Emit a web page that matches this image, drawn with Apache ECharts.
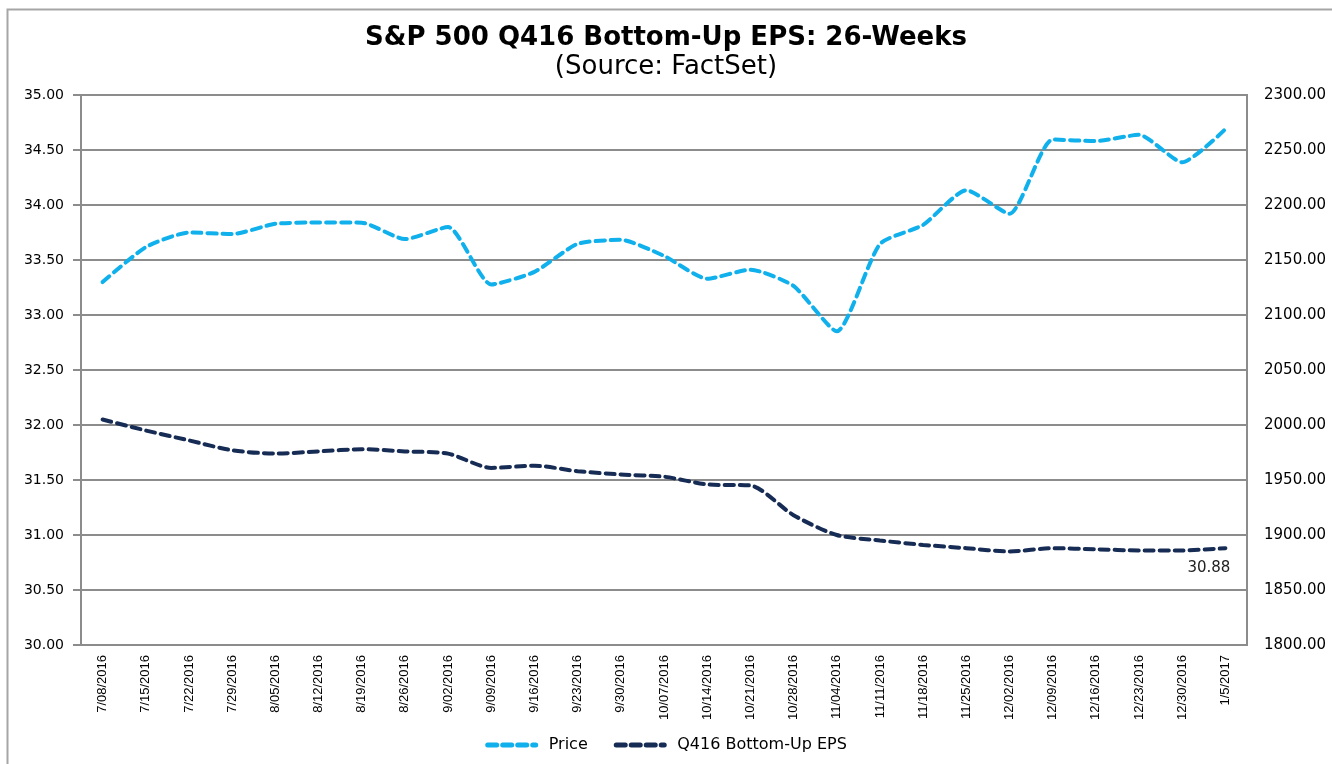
<!DOCTYPE html>
<html>
<head>
<meta charset="utf-8">
<script src="https://cdn.jsdelivr.net/npm/echarts@6/dist/echarts.min.js"></script>
<style>
  html, body { margin: 0; padding: 0; background: #fff; }
  #chart { width: 1332px; height: 764px; }
</style>
</head>
<body>
<div id="chart"></div>
<script>
const dates = ['7/08/2016', '7/15/2016', '7/22/2016', '7/29/2016', '8/05/2016', '8/12/2016', '8/19/2016',
  '8/26/2016', '9/02/2016', '9/09/2016', '9/16/2016', '9/23/2016', '9/30/2016', '10/07/2016',
  '10/14/2016', '10/21/2016', '10/28/2016', '11/04/2016', '11/11/2016', '11/18/2016', '11/25/2016',
  '12/02/2016', '12/09/2016', '12/16/2016', '12/23/2016', '12/30/2016', '1/5/2017'];

// S&P 500 price (right axis)
const price = [2129.9, 2161.7, 2175.0, 2173.6, 2182.9, 2184.1, 2183.9, 2169.0, 2180.0, 2127.8,
  2139.2, 2164.7, 2168.3, 2153.7, 2133.0, 2141.2, 2126.4, 2085.2, 2164.5, 2181.9, 2213.4,
  2192.0, 2259.5, 2258.1, 2263.8, 2238.8, 2269.0];

// Q416 bottom-up EPS (left axis)
const eps = [32.05, 31.95, 31.86, 31.77, 31.74, 31.76, 31.78, 31.76, 31.74, 31.61, 31.63, 31.58,
  31.55, 31.53, 31.46, 31.45, 31.18, 31.00, 30.95, 30.91, 30.88, 30.85, 30.88, 30.87, 30.86,
  30.86, 30.88];

const font = '"DejaVu Sans", Arial, sans-serif';
const arial = 'Arial, "Liberation Sans", sans-serif';
const gridGrey = '#8c8c8c';

const chart = echarts.init(document.getElementById('chart'));

chart.setOption({
  animation: false,
  backgroundColor: '#fff',
  graphic: [{
    type: 'rect',
    shape: { x: 7.5, y: 9.5, width: 1400, height: 800 },
    style: { fill: 'none', stroke: '#a6a6a6', lineWidth: 2 },
    silent: true
  }],
  title: {
    text: 'S&P 500 Q416 Bottom-Up EPS: 26-Weeks',
    subtext: '(Source: FactSet)',
    left: 'center',
    top: 20,
    itemGap: 3,
    textStyle: { fontFamily: font, fontSize: 26, fontWeight: 'bold', color: '#000' },
    subtextStyle: { fontFamily: font, fontSize: 26, color: '#000' }
  },
  legend: {
    bottom: 6,
    left: 'center',
    itemWidth: 48,
    itemHeight: 14,
    itemGap: 26,
    itemStyle: { opacity: 0 },
    lineStyle: { width: 5 },
    textStyle: { fontFamily: font, fontSize: 16, color: '#000', padding: [0, 0, 0, 8] },
    data: ['Price', 'Q416 Bottom-Up EPS']
  },
  grid: { left: 81, right: 85, top: 95, bottom: 119, show: true, borderColor: gridGrey, borderWidth: 2 },
  xAxis: {
    type: 'category',
    data: dates,
    boundaryGap: true,
    axisLine: { lineStyle: { color: gridGrey, width: 2 } },
    axisTick: { show: false },
    axisLabel: { rotate: 90, interval: 0, margin: 10, fontFamily: arial, fontSize: 13, color: '#000' }
  },
  yAxis: [
    {
      type: 'value',
      min: 30, max: 35, interval: 0.5,
      axisLine: { show: true, lineStyle: { color: gridGrey, width: 2 } },
      axisTick: { show: true, length: 8, inside: false, lineStyle: { color: gridGrey, width: 2 } },
      splitLine: { lineStyle: { color: gridGrey, width: 2 } },
      axisLabel: { formatter: v => v.toFixed(2), margin: 17, fontFamily: font, fontSize: 14, color: '#000' }
    },
    {
      type: 'value',
      min: 1800, max: 2300, interval: 50,
      axisLine: { show: false },
      axisTick: { show: false },
      splitLine: { show: false },
      axisLabel: { formatter: v => v.toFixed(2), margin: 17, fontFamily: font, fontSize: 15, color: '#000' }
    }
  ],
  series: [
    {
      name: 'Price',
      type: 'line',
      yAxisIndex: 1,
      data: price,
      smooth: 0.2,
      symbol: 'none',
      color: '#0fb0ec',
      lineStyle: { color: '#0fb0ec', width: 4, type: [9, 6], cap: 'round' }
    },
    {
      name: 'Q416 Bottom-Up EPS',
      type: 'line',
      yAxisIndex: 0,
      data: eps,
      smooth: 0.25,
      symbol: 'none',
      color: '#172c55',
      lineStyle: { color: '#172c55', width: 4, type: [9, 6], cap: 'round' },
      endLabel: {
        show: true,
        formatter: p => p.value.toFixed(2),
        offset: [-46, 20],
        fontFamily: font,
        fontSize: 15,
        color: '#222'
      }
    }
  ]
});
</script>
</body>
</html>
